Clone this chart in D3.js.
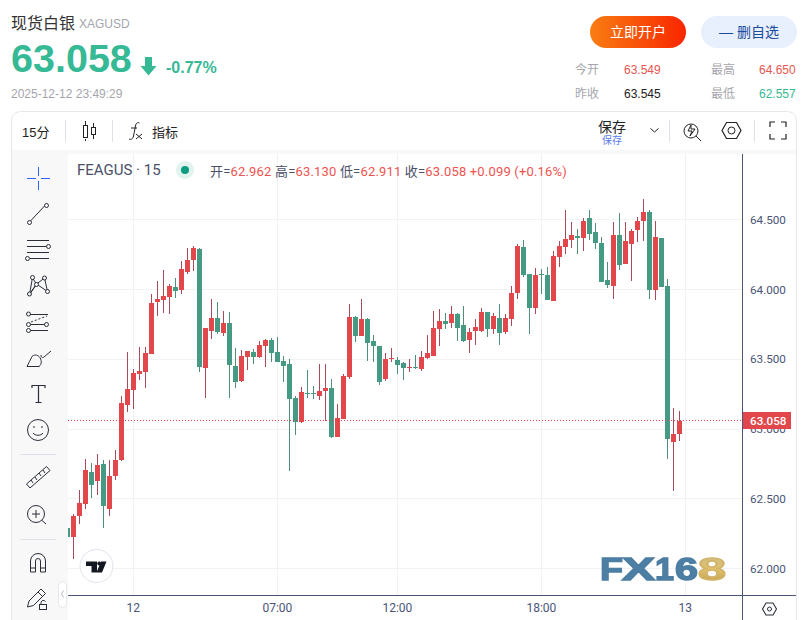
<!DOCTYPE html>
<html>
<head>
<meta charset="utf-8">
<script src="https://cdn.jsdelivr.net/npm/d3@7/dist/d3.min.js"></script>
<style>
html, body { margin: 0; padding: 0; background: #fff; overflow: hidden; }
svg { display: block; }
text { font-family: "Liberation Sans", "Noto Sans CJK SC", sans-serif; }
.pane text { font-family: Roboto, "Noto Sans CJK SC", sans-serif; }
</style>
</head>
<body>
<svg width="809" height="620"></svg>
<script>
// 15 minute bars
let opens = [62.293,62.229,62.379,62.464,62.694,62.630,62.751,62.429,62.665,62.780,63.173,63.280,63.395,63.409,63.538,63.910,63.924,63.945,64.017,63.995,64.124,64.210,64.288,63.437,63.702,63.795,63.688,63.759,63.452,63.345,63.516,63.552,63.516,63.595,63.638,63.552,63.488,63.466,63.223,63.052,63.259,63.259,63.238,63.273,63.294,62.944,63.073,63.373,63.802,63.666,63.788,63.631,63.595,63.359,63.502,63.495,63.473,63.437,63.444,63.430,63.509,63.524,63.716,63.774,63.759,63.823,63.745,63.638,63.702,63.702,63.838,63.716,63.795,63.695,63.788,63.974,64.303,64.110,63.866,64.110,64.103,63.917,64.231,64.303,64.353,64.382,64.368,64.510,64.411,64.332,64.067,64.024,64.389,64.181,64.324,64.425,64.489,64.554,63.995,64.368,64.024,62.909,62.962];
let highs = [62.300,62.393,62.565,62.787,62.759,62.822,62.780,62.780,62.851,63.238,63.552,63.430,63.588,63.588,63.966,64.060,64.138,64.038,64.081,64.203,64.296,64.310,64.296,63.724,63.931,63.910,63.845,63.838,63.581,63.566,63.559,63.573,63.631,63.645,63.652,63.659,63.524,63.502,63.238,63.302,63.423,63.309,63.466,63.466,63.359,63.180,63.395,63.895,63.809,63.931,63.795,63.673,63.595,63.545,63.581,63.516,63.481,63.502,63.531,63.559,63.673,63.845,63.859,63.831,63.881,63.831,63.881,63.724,63.788,63.866,63.838,63.831,63.895,63.823,64.024,64.324,64.353,64.110,64.153,64.145,64.160,64.274,64.346,64.568,64.482,64.432,64.510,64.568,64.475,64.375,64.196,64.482,64.546,64.482,64.432,64.518,64.650,64.568,64.489,64.368,64.074,63.151,63.130];
let lows = [62.210,62.071,62.321,62.429,62.507,62.529,62.293,62.379,62.637,62.773,63.123,63.144,63.352,63.294,63.538,63.809,63.831,63.823,63.938,63.966,64.110,64.131,63.409,63.223,63.645,63.680,63.666,63.223,63.294,63.338,63.423,63.466,63.509,63.444,63.481,63.481,63.338,62.701,62.958,63.045,63.223,63.216,63.209,63.059,62.937,62.944,63.073,63.359,63.624,63.666,63.488,63.481,63.316,63.345,63.481,63.395,63.352,63.409,63.430,63.416,63.502,63.524,63.595,63.716,63.724,63.631,63.624,63.545,63.602,63.695,63.659,63.680,63.602,63.680,63.738,63.931,64.088,63.680,63.823,63.966,63.924,63.917,64.160,64.252,64.296,64.252,64.274,64.353,64.288,64.053,64.010,63.931,64.138,64.181,64.060,64.339,64.346,63.931,63.924,64.017,62.787,62.557,62.911];
let closes = [62.229,62.379,62.472,62.708,62.601,62.744,62.450,62.665,62.780,63.188,63.287,63.402,63.416,63.545,63.903,63.931,63.952,64.024,63.988,64.145,64.210,64.296,63.444,63.724,63.795,63.695,63.759,63.459,63.338,63.524,63.559,63.516,63.602,63.638,63.545,63.481,63.452,63.216,63.052,63.266,63.252,63.252,63.273,63.294,62.944,63.080,63.380,63.802,63.666,63.788,63.617,63.595,63.338,63.502,63.509,63.459,63.437,63.444,63.437,63.516,63.545,63.724,63.774,63.752,63.823,63.724,63.631,63.695,63.731,63.838,63.716,63.809,63.688,63.795,63.974,64.310,64.103,63.866,64.103,64.103,63.924,64.238,64.310,64.361,64.389,64.368,64.489,64.396,64.332,64.053,64.031,64.389,64.174,64.346,64.418,64.489,64.554,63.995,64.375,64.017,62.930,62.965,63.058];

let priceTicks = [62, 62.5, 63, 63.5, 64, 64.5];
let timeTicks = [11, 35, 55, 79, 103];
let timeLabels = ["12", "07:00", "12:00", "18:00", "13"];
let lastPrice = 63.058;

let legendParts = [
  ["开=", "62.962"], ["高=", "63.130"], ["低=", "62.911"], ["收=", "63.058"]
];
let statRows = [
  ["今开", "63.549", "#e8554e", "最高", "64.650", "#e8554e"],
  ["昨收", "63.545", "#222", "最低", "62.557", "#36b995"]
];

const upColor = "#e2474c", downColor = "#459a84";
const upWick = "#a84a58", downWick = "#4f8f77";
const axisColor = "#4a5578", iconColor = "#2a2e39";

let svg = d3.select("svg");

function label(g, x, y, str, size, fill, weight, anchor) {
  return g.append("text").attr("x", x).attr("y", y).text(str)
    .attr("font-size", size).attr("fill", fill)
    .attr("font-weight", weight || "normal")
    .attr("text-anchor", anchor || "start");
}

// ---- header ----
let head = svg.append("g");
label(head, 11, 29, "现货白银", 16, "#333");
label(head, 79, 28, "XAGUSD", 12, "#a5a5ad");
label(head, 11, 72, "63.058", 39.5, "#36b995", "bold");
head.append("path").attr("fill", "#36b995")
  .attr("d", "M145 57h7v9h4.5l-8 9.5-8-9.5h4.500z");
label(head, 166, 73, "-0.77%", 16, "#36b995", "bold");
label(head, 11, 98, "2025-12-12 23:49:29", 12, "#a5a5ad");

let grad = svg.append("defs").append("linearGradient").attr("id", "btn");
grad.append("stop").attr("offset", "0%").attr("stop-color", "#f97d12");
grad.append("stop").attr("offset", "100%").attr("stop-color", "#f92600");
let gold = svg.select("defs").append("linearGradient").attr("id", "gold")
  .attr("x1", 0).attr("x2", 0).attr("y1", 0).attr("y2", 1);
gold.append("stop").attr("offset", "0%").attr("stop-color", "#c9b98a");
gold.append("stop").attr("offset", "50%").attr("stop-color", "#e2c26c");
gold.append("stop").attr("offset", "100%").attr("stop-color", "#b8954a");
svg.select("defs").append("filter").attr("id", "soft")
  .append("feGaussianBlur").attr("stdDeviation", .4);

head.append("rect").attr("x", 590).attr("y", 16).attr("width", 96).attr("height", 32).attr("rx", 16).attr("fill", "url(#btn)");
label(head, 638, 37, "立即开户", 14, "#fff", "normal", "middle");
head.append("rect").attr("x", 701).attr("y", 16).attr("width", 96).attr("height", 32).attr("rx", 16).attr("fill", "#e8effd");
label(head, 749, 37, "— 删自选", 14, "#1a4a9c", "normal", "middle");

statRows.forEach((r, i) => {
  let yy = 74 + i * 24;
  label(head, 575, yy, r[0], 12, "#a5a5ad");
  label(head, 624, yy, r[1], 12, r[2]);
  label(head, 711, yy, r[3], 12, "#a5a5ad");
  label(head, 759, yy, r[4], 12, r[5]);
});

// ---- chart box and toolbars ----
svg.append("rect").attr("x", 11.5).attr("y", 111.5).attr("width", 785).attr("height", 530).attr("rx", 9)
  .attr("fill", "#fff").attr("stroke", "#e8e8ea");
svg.append("rect").attr("x", 12).attr("y", 150).attr("width", 784).attr("height", 4).attr("fill", "#f8f8f9");
svg.append("rect").attr("x", 12).attr("y", 150).attr("width", 56).attr("height", 470).attr("fill", "#f8f8f9");

let topBar = svg.append("g");
label(topBar, 22, 137, "15分", 13, "#222");
label(topBar, 152, 137, "指标", 13, "#222");
label(topBar, 612, 132, "保存", 14, "#222", "normal", "middle");
label(topBar, 612, 144, "保存", 10, "#5b7cf0", "normal", "middle");
[65, 112, 669, 754].forEach(x => topBar.append("line").attr("x1", x + .5).attr("x2", x + .5).attr("y1", 120).attr("y2", 142).attr("stroke", "#dfe1e8"));

let ink = topBar.append("g").attr("fill", "none").attr("stroke", "#222").attr("stroke-width", 1);
ink.append("path").attr("d", "M85.500 121v5M85.500 139v2M93.500 123v5M93.500 135v4");
ink.append("rect").attr("x", 83.500).attr("y", 125.500).attr("width", 4).attr("height", 12);
ink.append("rect").attr("x", 91.500).attr("y", 127.500).attr("width", 4).attr("height", 7);
ink.append("path").attr("d", "M129 139c2 1 4 0 4.500-3l2-10c.5-3 2-4 4-3M131 128h6M136 134l6 5M142 134l-6 5");
ink.append("path").attr("d", "M650.500 128.500l4 3.500 4-3.500");
ink.append("circle").attr("cx", 691).attr("cy", 131).attr("r", 7);
ink.append("path").attr("d", "M696 136l5 5M691 125l-3 6h4l-2 5 5-7h-4z");
ink.append("path").attr("d", "M722 130.500l4.500-8h10l4.500 8-4.500 8h-10z").attr("stroke-width", 1.200);
ink.append("circle").attr("cx", 731.500).attr("cy", 130.500).attr("r", 3.500);
ink.append("path").attr("d", "M770 127v-5h5M781 122h5v5M786 134v5h-5M775 139h-5v-5").attr("stroke-width", 1.200);

// ---- side tools ----
let side = svg.append("g").attr("fill", "none").attr("stroke", iconColor).attr("stroke-width", 1);
side.append("path").attr("stroke", "#2962ff").attr("d", "M27 178.500h9M41 178.500h9M38.500 167v9M38.500 181v9");
function dot(x, y) { side.append("circle").attr("cx", x).attr("cy", y).attr("r", 2).attr("fill", "#f8f8f9"); }
side.append("path").attr("d", "M30.500 221l14-15"); dot(29.500, 222.500); dot(46.500, 205.500);
side.append("path").attr("d", "M27 240.500h22M27 246.500h20M27 252.500h22M30 258.500h19"); dot(48.500, 246.500); dot(27.500, 258.500);
side.append("path").attr("d", "M32.500 277.500l4 7-7 10 3-17M44.500 278l-8 6 11 7.500-3-13.500M36.500 284l-7 10");
[[32.500, 277.500], [44.500, 278], [36.500, 284.500], [47.500, 291.500], [29.500, 294]].forEach(p => dot(p[0], p[1]));
side.append("path").attr("d", "M30 314.500h18M30 324.500h15M30 330.500h18");
side.append("path").attr("stroke-dasharray", "2 2").attr("d", "M31 322l16-6");
[[28.500, 314], [28.500, 324.500], [46.500, 324.500], [28.500, 330.500]].forEach(p => dot(p[0], p[1]));
side.append("path").attr("d", "M27 366.500h12c3-2 3-7 0-10-2-2-5-2-7 0-2 3-3 7-5 10zM41 355c0 3 2 3 3 2l7-6");
side.append("path").attr("stroke-width", 1.200).attr("d", "M32 388v-2.500h13v2.500M38.500 385.500v17M35.500 402.500h6");
side.append("circle").attr("cx", 38).attr("cy", 430).attr("r", 10.500);
side.append("path").attr("d", "M33 433c2 3 8 3 10 0M34 426v2M42 426v2");
[454, 539].forEach(y => side.append("line").attr("x1", 20).attr("x2", 56).attr("y1", y + .5).attr("y2", y + .5).attr("stroke", "#dfe1e8"));
side.append("path").attr("d", "M26.500 484l20-17.500 3.500 4-20 17.500zM31 480l2 3M35 477l2 3M39 473l2 3M43 470l2 3");
side.append("circle").attr("cx", 36).attr("cy", 514).attr("r", 8.500);
side.append("path").attr("d", "M42 520.500l4 3.500M36 510v8M32 514h8");
side.append("path").attr("d", "M30.500 572v-11a7.500 7.500 0 0 1 15 0v11h-5v-11a2.500 2.500 0 0 0-5 0v11zM30.500 568h5M40.500 568h5");
side.append("path").attr("d", "M27.500 607l1.500-6 12-12 4.500 4.500-12 12zM38 592l4.500 4.500");
side.append("rect").attr("x", 39.500).attr("y", 604.500).attr("width", 7).attr("height", 5);
side.append("path").attr("d", "M41 604.500v-2a2.500 2.500 0 0 1 4.500-1");

// ---- chart pane ----
let x = d3.scaleLinear().domain([0, 102]).range([67.33, 679.33]);
let y = d3.scaleLinear().domain([62, 64.5]).range([568.7, 219.6]);

svg.select("defs").append("clipPath").attr("id", "pane")
  .append("rect").attr("x", 68).attr("y", 154).attr("width", 674).attr("height", 441);

let pane = svg.append("g").attr("class", "pane");
let plot = pane.append("g").attr("clip-path", "url(#pane)");

plot.append("rect").attr("x", 68).attr("y", 154).attr("width", 674).attr("height", 441).attr("rx", 5).attr("fill", "#fff");

plot.selectAll(".hgrid").data(priceTicks).enter().append("rect").attr("class", "hgrid")
  .attr("x", 68).attr("width", 674).attr("y", d => Math.floor(y(d))).attr("height", 1).attr("fill", "#f1f2f4");
plot.selectAll(".vgrid").data(timeTicks).enter().append("rect").attr("class", "vgrid")
  .attr("y", 154).attr("height", 441).attr("x", d => Math.floor(x(d))).attr("width", 1).attr("fill", "#f1f2f4");

// watermark sits under the candles, letters placed one by one to get the wide look
let wm = plot.append("g").attr("filter", "url(#soft)");
[["F", 600, 23, "#4d7ea3"], ["X", 622, 33, "#4d7ea3"], ["1", 655, 19, "#4d7ea3"], ["6", 675, 23, "#4d7ea3"], ["8", 698, 28, "url(#gold)"]].forEach(l => {
  wm.append("text").attr("x", l[1]).attr("y", 580).text(l[0]).attr("font-size", 31)
    .attr("textLength", l[2]).attr("lengthAdjust", "spacingAndGlyphs")
    .attr("font-weight", "bold").style("font-family", "Liberation Sans")
    .attr("fill", l[3]).attr("stroke", l[0] == "8" ? "#d2b468" : "#4d7ea3").attr("stroke-width", 1.400);
});

let bars = d3.range(opens.length);
let isUp = i => closes[i] >= opens[i];

plot.selectAll(".wick").data(bars).enter().append("rect").attr("class", "wick")
  .attr("x", i => Math.floor(x(i))).attr("width", 1)
  .attr("y", i => Math.round(y(highs[i])))
  .attr("height", i => Math.max(1, Math.round(y(lows[i])) - Math.round(y(highs[i]))))
  .attr("fill", i => isUp(i) ? upWick : downWick);

plot.selectAll(".body").data(bars).enter().append("rect").attr("class", "body")
  .attr("x", i => Math.floor(x(i)) - 2).attr("width", 5)
  .attr("y", i => Math.round(y(Math.max(opens[i], closes[i]))))
  .attr("height", i => Math.max(1, Math.round(y(Math.min(opens[i], closes[i]))) - Math.round(y(Math.max(opens[i], closes[i])))))
  .attr("fill", i => isUp(i) ? upColor : downColor);

plot.append("line").attr("x1", 68).attr("x2", 742)
  .attr("y1", Math.floor(y(lastPrice)) + .5).attr("y2", Math.floor(y(lastPrice)) + .5)
  .attr("stroke", "#ef3b45").attr("stroke-dasharray", "1 2");

// axes
let yAxis = d3.axisRight(y).tickValues(priceTicks).tickFormat(d3.format(".3f")).tickSize(0).tickPadding(7);
let yAxisG = pane.append("g").attr("transform", "translate(743,0)").call(yAxis);
yAxisG.select(".domain").remove();
yAxisG.selectAll("text").attr("font-size", 11.7).attr("fill", axisColor).style("font-family", "Roboto");

let xAxis = d3.axisBottom(x).tickValues(timeTicks).tickFormat((d, i) => timeLabels[i]).tickSize(0).tickPadding(8);
let xAxisG = pane.append("g").attr("transform", "translate(-0.5,595)").call(xAxis);
xAxisG.select(".domain").remove();
xAxisG.selectAll("text").attr("font-size", 12).attr("fill", axisColor).style("font-family", "Roboto");

pane.append("rect").attr("x", 68).attr("y", 595).attr("width", 728).attr("height", 1).attr("fill", axisColor);
pane.append("rect").attr("x", 742).attr("y", 154).attr("width", 1).attr("height", 466).attr("fill", axisColor);

// last price tag
pane.append("rect").attr("x", 743).attr("y", Math.floor(y(lastPrice)) - 8).attr("width", 48).attr("height", 17).attr("fill", upColor);
label(pane, 750, Math.floor(y(lastPrice)) + 4.500, d3.format(".3f")(lastPrice), 11.7, "#fff", "500");

// legend
label(pane, 77, 175, "FEAGUS · 15", 15, "#4a5068");
pane.append("circle").attr("cx", 185).attr("cy", 170).attr("r", 9).attr("fill", "#e1f3ee");
pane.append("circle").attr("cx", 185).attr("cy", 170).attr("r", 4).attr("fill", "#0e9b7f");

let legend = label(pane, 210, 175.5, "", 13, "#4a5068").style("letter-spacing", "0.18px");
legendParts.forEach(p => {
  legend.append("tspan").text(p[0]);
  legend.append("tspan").text(p[1] + " ").attr("fill", "#ef5350");
});
legend.append("tspan").text("+0.099 (+0.16%)").attr("fill", "#ef5350");

// tv badge
pane.append("circle").attr("cx", 96.500).attr("cy", 566).attr("r", 16.500).attr("fill", "#fff").attr("stroke", "#e0e3eb").attr("stroke-width", 1);
pane.append("path").attr("fill", "#131722")
  .attr("d", "M86 561.500h11v11h-5.500v-6.500H86zM106.500 561.500l-4.500 11h-5.500l4.500-11z");
pane.append("circle").attr("cx", 99.200).attr("cy", 563.500).attr("r", 1.900).attr("fill", "#131722");

// collapse handle
pane.append("rect").attr("x", 58.500).attr("y", 581.500).attr("width", 8).attr("height", 26).attr("rx", 4).attr("fill", "#fff").attr("stroke", "#e6e7ec");
pane.append("path").attr("fill", "none").attr("stroke", "#b4b8c4").attr("d", "M63.500 590.500l-2 3.500 2 3.500");

// settings hexagon
pane.append("path").attr("fill", "none").attr("stroke", iconColor).attr("stroke-width", 1.100).attr("d", "M762.500 609l3.500-6h7l3.500 6-3.500 6h-7z");
pane.append("circle").attr("cx", 769.500).attr("cy", 609).attr("r", 2).attr("fill", "none").attr("stroke", iconColor);
</script>
</body>
</html>
